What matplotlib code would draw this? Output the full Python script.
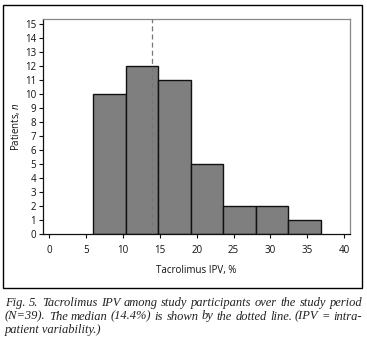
import matplotlib
matplotlib.use("Agg")
import matplotlib.pyplot as plt
from matplotlib.patches import Rectangle

# ---- data ----
bin_edges = [6.0, 10.4, 14.8, 19.2, 23.6, 28.0, 32.4, 36.8]
counts = [10, 12, 11, 5, 2, 2, 1]
median_line = 14.0
x_ticks = [0, 5, 10, 15, 20, 25, 30, 35, 40]
y_ticks = list(range(0, 16))
x_label = "Tacrolimus IPV, %"
caption_lines = [
    "Fig. 5. Tacrolimus IPV among study participants over the study period",
    "(N=39). The median (14.4%) is shown by the dotted line. (IPV = intra-",
    "patient variability.)",
]

plt.rcParams['font.family'] = ['Open Sans', 'DejaVu Sans']
plt.rcParams['mathtext.fontset'] = 'custom'
plt.rcParams['mathtext.it'] = 'Open Sans:italic'
plt.rcParams['mathtext.rm'] = 'Open Sans'

W, H = 367, 349
fig = plt.figure(figsize=(W / 100, H / 100), dpi=100)

# outer frame
fig.patches.append(Rectangle((3 / W, 1 - 288 / H), 359 / W, 283 / H,
                             transform=fig.transFigure, fill=False,
                             edgecolor='black', linewidth=1.0))

ax = fig.add_axes([43 / W, 1 - 234.3 / H, 307 / W, 215.3 / H])

lefts = bin_edges[:-1]
widths = [b - a for a, b in zip(bin_edges[:-1], bin_edges[1:])]
ax.bar(lefts, counts, width=widths, align='edge', color='#7f7f7f',
       edgecolor='#111111', linewidth=1.0, zorder=2)
ax.axvline(median_line, color='#777777', linestyle=(0, (4, 2.5)),
           linewidth=0.9, zorder=3)

ax.set_xlim(-0.85, 40.8)
ax.set_ylim(0, 15.37)
ax.set_xticks(x_ticks)
ax.set_yticks(y_ticks)
ax.tick_params(axis='both', labelsize=7, length=3, width=0.8,
               direction='out', pad=2, colors='#111111')
ax.tick_params(axis='x', pad=5)
for s in ['top', 'right']:
    ax.spines[s].set_color('#888888')
    ax.spines[s].set_linewidth(0.9)
for s in ['left', 'bottom']:
    ax.spines[s].set_color('#111111')
    ax.spines[s].set_linewidth(0.9)

ax.set_xlabel(x_label, fontsize=7, labelpad=6, color='#111111')
ax.set_ylabel('Patients, $\\mathit{n}$', fontsize=7, labelpad=2, color='#111111')

# caption, justified
fig.canvas.draw()
renderer = fig.canvas.get_renderer()
cap_font = dict(family='Liberation Serif', style='italic', fontsize=9.0,
                color='#222222')
x0, x1 = 5, 362
y_lines = [303, 316.5, 330]
for i, (line, yy) in enumerate(zip(caption_lines, y_lines)):
    yf = 1 - yy / H
    if i < len(caption_lines) - 1:
        words = line.split(' ')
        ws = []
        for w in words:
            t = fig.text(0, 0, w, **cap_font)
            bb = t.get_window_extent(renderer)
            ws.append(bb.width)
            t.remove()
        gap = (x1 - x0 - sum(ws)) / (len(words) - 1)
        x = x0
        for w, wd in zip(words, ws):
            fig.text(x / W, yf, w, ha='left', va='center', **cap_font)
            x += wd + gap
    else:
        fig.text(x0 / W, yf, line, ha='left', va='center', **cap_font)

fig.savefig('out.png', dpi=100)
